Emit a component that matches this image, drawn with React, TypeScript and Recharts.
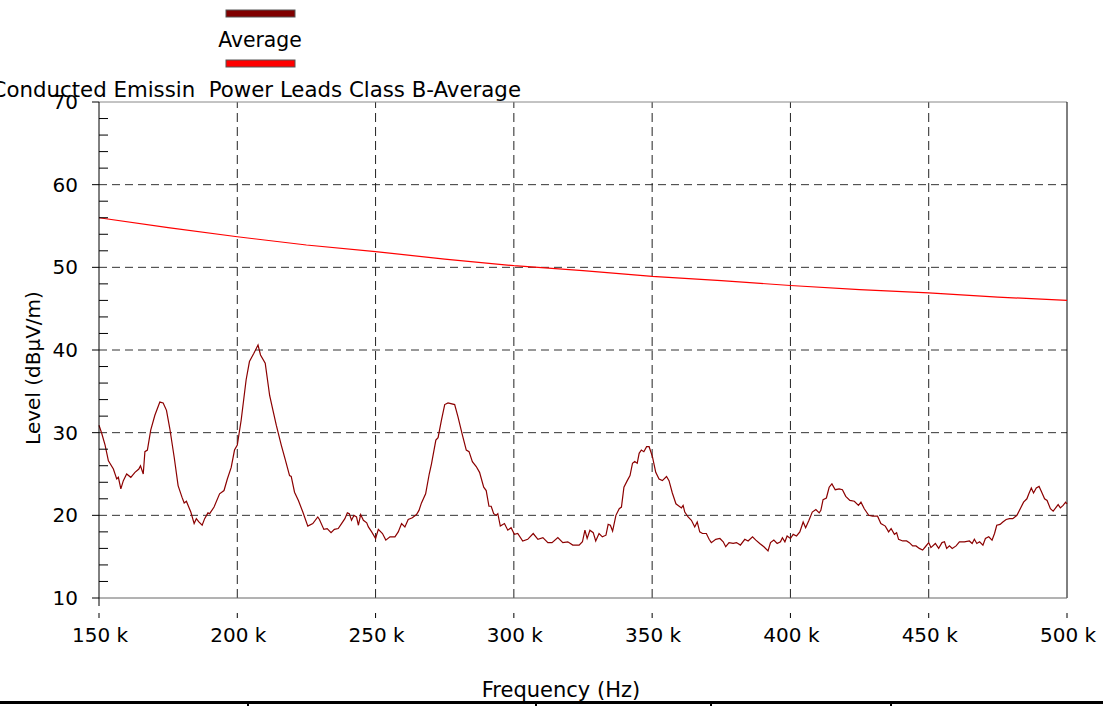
import { Line, LineChart, ReferenceLine, XAxis, YAxis } from "recharts";

// measured trace, frequency in kHz
const FREQ_KHZ = [
  150, 151, 152.2, 153.4, 155.2, 156.4, 157, 157.9, 158.8, 160, 161.5, 163, 164.4, 165, 166, 166.6, 167.5,
  168.7, 170.2, 172, 173.2, 174.4, 175.6, 177.2, 178.6, 180, 180.8, 181.6, 183.2, 184.4, 185.2, 186.1, 187.3,
  188.2, 189.4, 190, 191.6, 193.6, 195.2, 196.4, 197.8, 199, 200, 201.4, 203.2, 204.4, 206, 207.5, 208.4,
  210.1, 211.7, 212.9, 214.1, 215.9, 217.3, 218.9, 219.5, 220.7, 222.1, 223.7, 225.5, 227.3, 229.1, 229.7,
  231.3, 232.5, 233.9, 235.1, 236.5, 237.7, 238.9, 239.8, 240.5, 241.3, 242.2, 243.1, 243.8, 244.6, 245.6,
  246.8, 247.4, 248.6, 250, 251, 252.5, 253.7, 255.2, 257, 258.2, 259.4, 260.6, 261.8, 263.3, 264.8, 265.7,
  266.6, 268.1, 269.4, 270.2, 271.8, 272.6, 273.8, 275, 276.2, 278.6, 279.8, 281.4, 282.8, 283.8, 285, 286.4,
  287.6, 289.1, 290, 291, 291.8, 292.7, 293.6, 294.2, 295.1, 296.6, 297.8, 299, 300.2, 301.4, 303.2, 305,
  307, 308.7, 310.5, 312.3, 313.8, 315.9, 317.7, 319.5, 321.3, 323.6, 324.8, 325.7, 326.5, 327.5, 328.7,
  329.6, 330.8, 332, 333.3, 334.1, 334.9, 335.7, 336.9, 338.1, 338.9, 339.8, 341, 342, 342.9, 343.7, 344.6,
  345.3, 346.1, 347, 348, 348.9, 350.1, 351.3, 352.5, 353.7, 355.2, 356.1, 357.3, 358.6, 359.4, 360.6, 361.2,
  361.8, 363, 364.2, 365.4, 366.3, 367.2, 368.2, 369.6, 370.6, 371.4, 373, 374.5, 375.7, 376.6, 377.8, 379.3,
  380.5, 381.9, 383.5, 384.7, 386.3, 387.5, 388.9, 390.4, 391.9, 392.8, 394, 395.2, 396.4, 397.1, 398, 398.8,
  400, 401, 402.2, 403.4, 404.6, 405.5, 406.7, 407.9, 409.2, 410.4, 411, 411.8, 413, 414, 415, 416.2, 417.6,
  418.8, 420, 421.5, 423.1, 424.6, 425.5, 426.7, 428.3, 429.7, 431.5, 432.7, 434.3, 435.5, 436.4, 437.6,
  438.4, 439.1, 440.6, 442, 443, 444.2, 445.4, 446.6, 447.8, 448.8, 450, 450.8, 452.4, 453.6, 454.8, 455.7,
  456.5, 457.5, 458.5, 459.9, 461.1, 462.9, 464.7, 465.7, 466.5, 467.4, 468.4, 469.6, 470.5, 471.7, 472.9,
  473.8, 474.6, 475.8, 476.8, 478, 479.2, 480.4, 481.9, 483.1, 484.3, 485.5, 486.2, 487.1, 487.9, 488.9,
  489.9, 490.7, 491.9, 492.8, 494, 495, 495.9, 496.8, 497.6, 498.6, 499.5, 500,
];

const LEVEL_DB = [
  30.9, 29.9, 28.5, 26.6, 25.6, 24.4, 24.6, 23.2, 24.2, 25.0, 24.6, 25.2, 25.6, 26.0, 25.0, 27.7, 27.9,
  30.3, 32.1, 33.7, 33.6, 32.7, 30.5, 27.0, 23.6, 22.2, 21.5, 21.7, 20.4, 19.0, 19.6, 19.2, 18.8,
  19.6, 20.3, 20.2, 21.0, 22.6, 23.0, 24.4, 25.8, 27.9, 28.5, 31.5, 36.4, 38.6, 39.6, 40.6, 39.4,
  38.4, 34.5, 32.7, 30.9, 28.5, 26.8, 24.8, 24.7, 22.8, 21.8, 20.4, 18.7, 19.0, 19.8, 19.5,
  18.3, 18.4, 17.9, 18.3, 18.4, 19.0, 19.6, 20.3, 20.2, 19.4, 20.0, 19.8, 18.8, 20.1, 19.4,
  19.1, 18.6, 18.0, 17.2, 18.3, 17.8, 17.0, 17.4, 17.4, 18.0, 19.0, 18.6, 19.5, 19.7, 20.1, 20.6,
  21.5, 22.6, 25.0, 26.2, 29.1, 29.4, 31.5, 33.4, 33.6, 33.4, 31.9, 29.7, 27.9, 27.7, 26.5, 25.9,
  25.2, 23.4, 23.0, 21.1, 21.1, 20.2, 20.0, 20.2, 18.7, 19.0, 18.2, 18.5, 17.7, 17.8, 16.9, 17.1,
  17.8, 17.1, 17.3, 16.7, 16.7, 17.3, 16.7, 16.8, 16.4, 16.4, 16.8, 18.2, 17.2, 18.2, 17.9,
  16.9, 17.8, 17.4, 17.6, 18.9, 18.8, 18.1, 20.0, 20.8, 21.0, 23.4, 24.2, 24.8, 26.3, 26.5, 26.3,
  27.5, 27.9, 27.7, 28.3, 28.3, 27.1, 25.2, 24.4, 24.2, 24.7, 24.2, 22.7, 21.4, 21.2, 20.9, 21.2,
  20.4, 19.8, 19.4, 18.6, 19.2, 18.0, 17.8, 17.8, 17.1, 16.7, 17.1, 17.2, 16.8, 16.2, 16.7, 16.6,
  16.7, 16.4, 17.1, 16.9, 17.4, 17.0, 16.6, 16.2, 15.7, 16.7, 17.0, 16.6, 16.8, 17.3, 16.8, 17.5,
  17.2, 17.7, 17.5, 18.0, 19.2, 18.5, 19.4, 20.4, 20.7, 20.3, 20.6, 21.9, 22.1, 23.4, 23.8, 23.1, 23.2,
  23.1, 22.3, 21.8, 21.7, 21.2, 21.6, 20.8, 20.0, 19.9, 19.9, 19.0, 18.7, 18.0, 18.4, 17.7,
  17.9, 17.1, 16.9, 16.9, 16.7, 16.3, 16.3, 16.0, 15.8, 16.2, 16.7, 16.1, 16.6, 16.0, 16.7, 16.8,
  16.0, 16.3, 16.0, 16.3, 16.8, 16.8, 16.9, 16.6, 17.1, 16.6, 16.8, 16.4, 17.2, 17.4, 17.0,
  17.8, 18.8, 18.9, 19.2, 19.5, 19.6, 19.6, 20.0, 20.8, 21.6, 22.0, 22.6, 23.3, 22.7, 23.3,
  23.5, 22.9, 22.0, 21.8, 20.8, 20.5, 20.9, 21.3, 20.9, 21.2, 21.6, 21.4,
];

// Class B average limit
const LIMIT_FREQ_KHZ = [150, 175, 200, 225, 250, 275, 300, 325, 350, 375, 400, 425, 450, 475, 500];
const LIMIT_DB = [56.0, 54.8, 53.7, 52.7, 51.9, 51.0, 50.2, 49.6, 48.9, 48.4, 47.8, 47.3, 46.9, 46.4, 46.0];

const X_TICKS = [150, 200, 250, 300, 350, 400, 450, 500];
const Y_TICKS = [10, 12, 14, 16, 18, 20, 22, 24, 26, 28, 30, 32, 34, 36, 38, 40, 42, 44, 46, 48, 50, 52, 54, 56, 58, 60, 62, 64, 66, 68, 70];
const GRID_X = [200, 250, 300, 350, 400, 450];
const GRID_Y = [20, 30, 40, 50, 60];

const traceData = FREQ_KHZ.map((f, i) => ({ f, level: LEVEL_DB[i] }));
const limitData = LIMIT_FREQ_KHZ.map((f, i) => ({ f, limit: LIMIT_DB[i] }));

const FONT = "'DejaVu Sans', Verdana, sans-serif";
const PLOT_LEFT = 99;
const AXIS_Y = 598;

const YTick = ({ y, payload }: any) => {
  const v = payload.value;
  if (v % 10 === 0) {
    return (
      <g>
        <line x1={PLOT_LEFT - 7} x2={PLOT_LEFT} y1={y} y2={y} stroke="#000" />
        <text x={PLOT_LEFT - 21} y={y} dy={7} textAnchor="end" fontSize={20} fontFamily={FONT} fill="#000">
          {v}
        </text>
      </g>
    );
  }
  return <line x1={PLOT_LEFT} x2={PLOT_LEFT + 9} y1={y} y2={y} stroke="#000" />;
};

const XTick = ({ x, payload }: any) => (
  <g>
    {payload.value === 150 && <line x1={x} x2={x} y1={AXIS_Y} y2={AXIS_Y + 8} stroke="#000" />}
    <line x1={x} x2={x} y1={AXIS_Y + 15} y2={AXIS_Y + 20} stroke="#000" />
    <text x={x + 1} y={AXIS_Y + 44} textAnchor="middle" fontSize={20} fontFamily={FONT} fill="#000">
      {`${payload.value} k`}
    </text>
  </g>
);

export default function App() {
  return (
    <div style={{ position: "absolute", left: 0, top: 0, width: 1103, height: 706, background: "#fff", overflow: "hidden" }}>
      <LineChart width={1103} height={706} margin={{ top: 102, right: 36, bottom: 58, left: 39 }}>
        <XAxis
          type="number"
          dataKey="f"
          domain={[150, 500]}
          ticks={X_TICKS}
          interval={0}
          height={50}
          axisLine={{ stroke: "#666" }}
          tickLine={false}
          tick={<XTick />}
          allowDuplicatedCategory={false}
        />
        <YAxis
          type="number"
          domain={[10, 70]}
          ticks={Y_TICKS}
          interval={0}
          width={60}
          axisLine={{ stroke: "#000" }}
          tickLine={false}
          tick={<YTick />}
        />
        {GRID_Y.map((v) => (
          <ReferenceLine key={`gy${v}`} y={v} stroke="#333" strokeDasharray="8 5" />
        ))}
        {GRID_X.map((v) => (
          <ReferenceLine key={`gx${v}`} x={v} stroke="#222" strokeDasharray="9 5" />
        ))}
        <ReferenceLine y={70} stroke="#888" />
        <ReferenceLine x={500} stroke="#000" />
        <Line
          data={limitData}
          dataKey="limit"
          type="linear"
          stroke="#ff0000"
          strokeWidth={1.2}
          dot={false}
          isAnimationActive={false}
        />
        <Line
          data={traceData}
          dataKey="level"
          type="linear"
          stroke="#8b0000"
          strokeWidth={1.2}
          dot={false}
          isAnimationActive={false}
        />
      </LineChart>

      <svg width={1103} height={706} style={{ position: "absolute", left: 0, top: 0, pointerEvents: "none" }}>
        {/* legend */}
        <rect x={226} y={10} width={69} height={7} fill="#800000" stroke="#555" strokeWidth={1} />
        <text x={260} y={47} textAnchor="middle" fontSize={20.4} fontFamily={FONT} fill="#000">
          Average
        </text>
        <rect x={226} y={60} width={69} height={7} fill="#ff0000" stroke="#555" strokeWidth={1} />
        {/* title, clipped at the left edge as in the original */}
        <text x={521} y={97} textAnchor="end" fontSize={21.3} fontFamily={FONT} fill="#000" style={{ whiteSpace: "pre" }}>
          {"Conducted Emissin  Power Leads Class B-Average"}
        </text>
        {/* axis titles */}
        <text transform="translate(40,368) rotate(-90)" textAnchor="middle" fontSize={20} fontFamily={FONT} fill="#000">
          Level (dBµV/m)
        </text>
        <text x={561} y={697} textAnchor="middle" fontSize={21} fontFamily={FONT} fill="#000">
          Frequency (Hz)
        </text>
        {/* table rule underneath */}
        <rect x={0} y={701} width={1103} height={3} fill="#000" />
        {[248, 536, 711, 891].map((x) => (
          <rect key={x} x={x - 1} y={701} width={2} height={5} fill="#000" />
        ))}
      </svg>
    </div>
  );
}
